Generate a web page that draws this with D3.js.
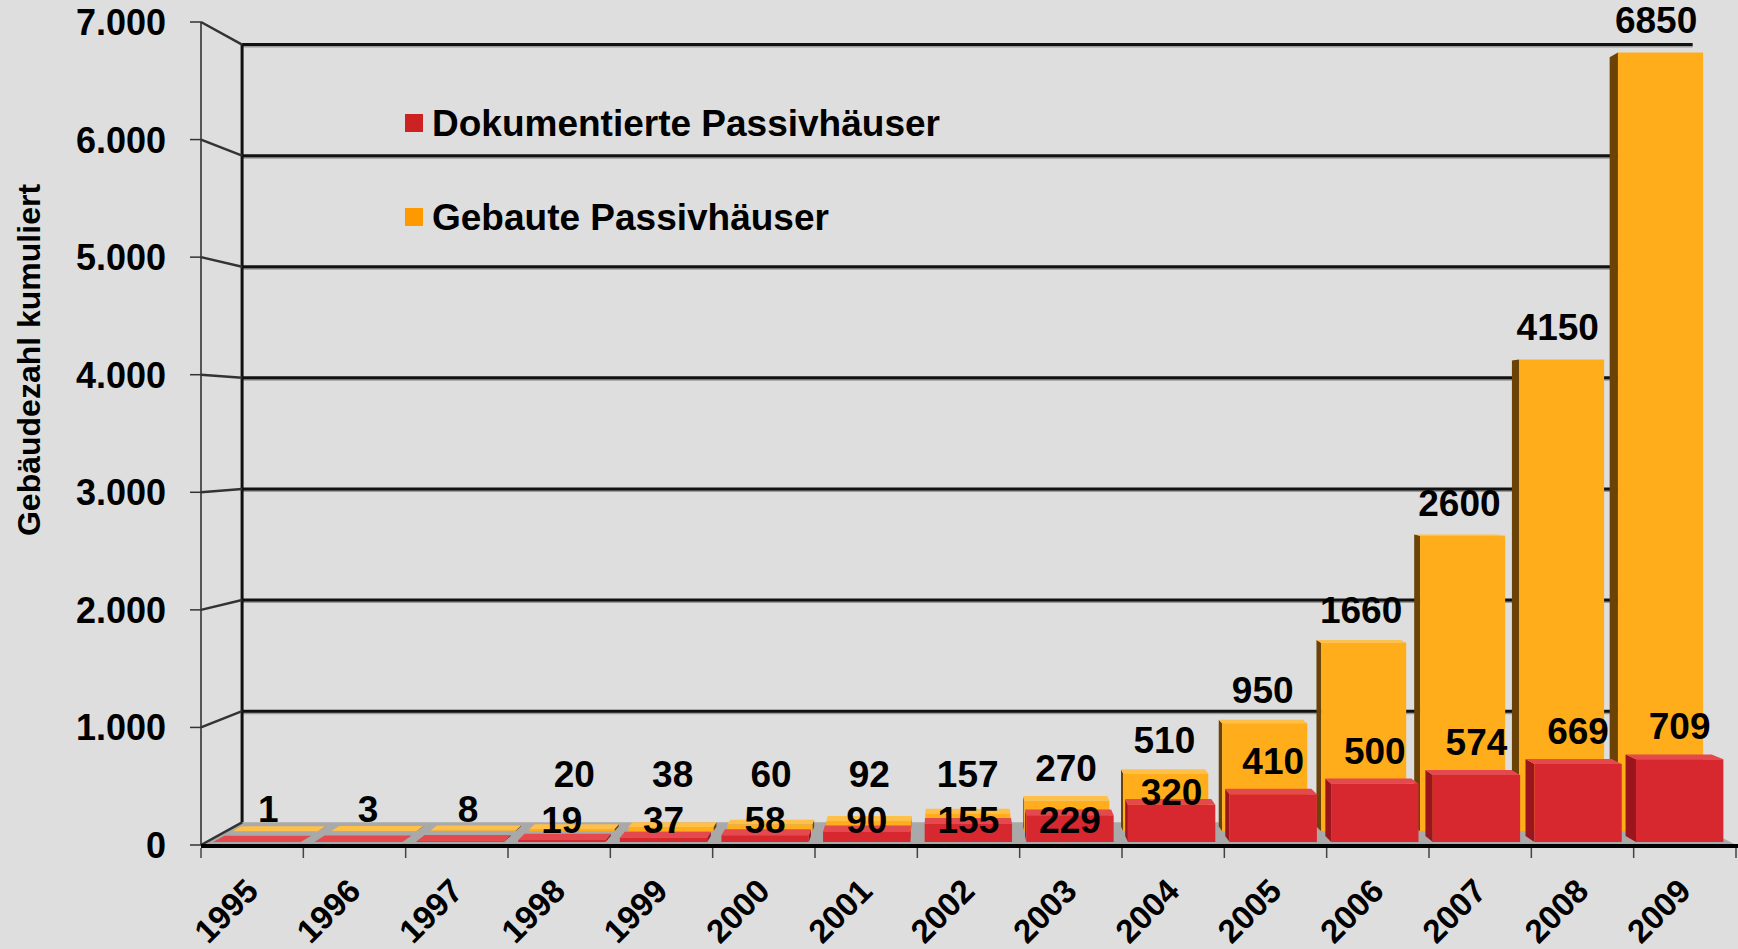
<!DOCTYPE html>
<html lang="de">
<head>
<meta charset="UTF-8">
<title>Passivhäuser</title>
<script src="https://d3js.org/d3.v7.min.js"></script>
<style>
  body { margin: 0; background: #dedede; }
  svg { display: block; font-family: "Liberation Sans", Arial, sans-serif; font-weight: bold; }
</style>
</head>
<body>
<div id="chart"></div>
<script>
// ====== DATA ======
var years = ["1995","1996","1997","1998","1999","2000","2001","2002","2003","2004","2005","2006","2007","2008","2009"];
var documented = [1, 3, 8, 19, 37, 58, 90, 155, 229, 320, 410, 500, 574, 669, 709];
var built = [1, 3, 8, 20, 38, 60, 92, 157, 270, 510, 950, 1660, 2600, 4150, 6850];
var yTicks = [0, 1000, 2000, 3000, 4000, 5000, 6000, 7000];
var tickLabels = ["0", "1.000", "2.000", "3.000", "4.000", "5.000", "6.000", "7.000"];
var seriesNames = ["Dokumentierte Passivhäuser", "Gebaute Passivhäuser"];
var axisTitle = "Gebäudezahl kumuliert";

// ====== SETUP ======
var width = 1738, height = 949;
var svg = d3.select("#chart").append("svg")
  .attr("width", width)
  .attr("height", height);

svg.append("rect").attr("width", width).attr("height", height).attr("fill", "#dedede");

// front plane scales
var x = d3.scaleBand().domain(years).range([201, 1736]).paddingInner(0.14).paddingOuter(0.07);
var y = d3.scaleLinear().domain([0, 7000]).range([845, 22]);

// simple perspective: everything shrinks towards a vanishing point with depth
var vp = [948, 432];
var wallS = 0.945;
var redDepth = [0.993, 0.978];
var orangeDepth = [0.967, 0.955];

function P(px, py, s) {
  return [vp[0] + (px - vp[0]) * s, vp[1] + (py - vp[1]) * s];
}
var line = d3.line();
function poly(pts) { return line(pts) + "Z"; }

var colors = {
  red: { front: "#d8282f", top: "#e4494d", side: "#9a161c", legend: "#cc2222" },
  orange: { front: "#ffad1a", top: "#ffc04a", side: "#6b4306", legend: "#ff9900" }
};

var x0 = x.range()[0], x1 = x.range()[1];

// ====== BACK WALL + FLOOR ======
var wall = svg.append("g");

// floor
wall.append("path")
  .attr("d", poly([P(x0, y(0), 1), P(x1, y(0), 1), P(x1, y(0), wallS), P(x0, y(0), wallS)]))
  .attr("fill", "#a9a9a9");

// gridlines on back wall
yTicks.forEach(function(t) {
  if (t === 0) return;
  var a = P(x0, y(t), wallS), b = P(x1, y(t), wallS);
  wall.append("line")
    .attr("x1", a[0]).attr("y1", a[1] + 2).attr("x2", b[0]).attr("y2", b[1] + 2)
    .attr("stroke", "#9a9a9a").attr("stroke-width", 2);
  wall.append("line")
    .attr("x1", a[0]).attr("y1", a[1]).attr("x2", b[0]).attr("y2", b[1])
    .attr("stroke", "#111").attr("stroke-width", 3);
});

// back wall left edge
var wb = P(x0, y(0), wallS), wt = P(x0, y(7000), wallS);
wall.append("line")
  .attr("x1", wb[0]).attr("y1", wb[1]).attr("x2", wt[0]).attr("y2", wt[1])
  .attr("stroke", "#111").attr("stroke-width", 3);

// front vertical axis
wall.append("line")
  .attr("x1", x0).attr("y1", y(0)).attr("x2", x0).attr("y2", y(7000))
  .attr("stroke", "#555").attr("stroke-width", 2);

// connectors from front ticks to the back wall + outer ticks
yTicks.forEach(function(t) {
  var a = P(x0, y(t), 1), b = P(x0, y(t), wallS);
  wall.append("line")
    .attr("x1", a[0]).attr("y1", a[1]).attr("x2", b[0]).attr("y2", b[1])
    .attr("stroke", "#333").attr("stroke-width", 2.5);
  wall.append("line")
    .attr("x1", x0 - 11).attr("y1", y(t)).attr("x2", x0).attr("y2", y(t))
    .attr("stroke", "#333").attr("stroke-width", 1.5);
});

// ====== BARS ======
function drawBox(g, bx0, bx1, v, depth, c) {
  var yb = y(0), yt = y(v), sf = depth[0], sb = depth[1];
  if (bx1 < vp[0]) {
    g.append("path").attr("d", poly([P(bx1, yt, sf), P(bx1, yt, sb), P(bx1, yb, sb), P(bx1, yb, sf)]))
      .attr("fill", c.side);
  } else if (bx0 > vp[0]) {
    g.append("path").attr("d", poly([P(bx0, yt, sf), P(bx0, yt, sb), P(bx0, yb, sb), P(bx0, yb, sf)]))
      .attr("fill", c.side);
  }
  if (yt > vp[1]) {
    g.append("path").attr("d", poly([P(bx0, yt, sf), P(bx1, yt, sf), P(bx1, yt, sb), P(bx0, yt, sb)]))
      .attr("fill", c.top);
  }
  g.append("path").attr("d", poly([P(bx0, yt, sf), P(bx1, yt, sf), P(bx1, yb, sf), P(bx0, yb, sf)]))
    .attr("fill", c.front);
}

var bars = svg.append("g");
years.forEach(function(yr, i) {
  drawBox(bars, x(yr), x(yr) + x.bandwidth(), built[i], orangeDepth, colors.orange);
});
years.forEach(function(yr, i) {
  drawBox(bars, x(yr), x(yr) + x.bandwidth(), documented[i], redDepth, colors.red);
});

// front floor edge
svg.append("line")
  .attr("x1", x0).attr("y1", y(0) + 1).attr("x2", width).attr("y2", y(0) + 1)
  .attr("stroke", "#000").attr("stroke-width", 4);

// x ticks
years.concat(["end"]).forEach(function(yr, i) {
  var tx = x0 + i * x.step();
  svg.append("line")
    .attr("x1", tx).attr("y1", y(0) + 3).attr("x2", tx).attr("y2", y(0) + 13)
    .attr("stroke", "#444").attr("stroke-width", 1.5);
});

// ====== LABELS ======
var labels = svg.append("g").attr("font-size", 37).attr("fill", "#000").attr("text-anchor", "middle");
var floorLabel = y(0) - 25;
years.forEach(function(yr, i) {
  var cx = x(yr) + x.bandwidth() / 2;
  var oTop = P(cx, y(built[i]), orangeDepth[0]);
  var rTop = P(cx, y(documented[i]), redDepth[0]);
  var ox = P(cx, 0, (orangeDepth[0] + orangeDepth[1]) / 2)[0];

  if (documented[i] === built[i]) {
    // same value in both series: one label only
    labels.append("text")
      .attr("x", (ox + rTop[0]) / 2)
      .attr("y", floorLabel - 11)
      .attr("dy", "0.35em")
      .text(built[i]);
    return;
  }
  var oy = Math.min(oTop[1] - 33, floorLabel - 46);
  var ry = Math.min(floorLabel, Math.max(rTop[1] - 33, oy + 52));

  labels.append("text")
    .attr("x", ox)
    .attr("y", oy)
    .attr("dy", "0.35em")
    .text(built[i]);
  labels.append("text")
    .attr("x", rTop[0])
    .attr("y", ry)
    .attr("dy", "0.35em")
    .text(documented[i]);
});

// year labels
svg.append("g").attr("font-size", 33).attr("text-anchor", "end")
  .selectAll("text")
  .data(years)
  .enter()
  .append("text")
  .attr("transform", function(d) {
    return "translate(" + (x(d) + x.bandwidth() / 2 + 8) + "," + 893 + ")rotate(-45)";
  })
  .text(function(d) { return d; });

// y tick labels
svg.append("g").attr("font-size", 36).attr("text-anchor", "end")
  .selectAll("text")
  .data(yTicks)
  .enter()
  .append("text")
  .attr("x", 166)
  .attr("y", function(d) { return y(d); })
  .attr("dy", "0.36em")
  .text(function(d, i) { return tickLabels[i]; });

// axis title
svg.append("text")
  .attr("transform", "translate(28,360)rotate(-90)")
  .attr("text-anchor", "middle")
  .attr("dy", "0.36em")
  .attr("font-size", 32)
  .text(axisTitle);

// ====== LEGEND ======
var legend = svg.append("g");
[colors.red.legend, colors.orange.legend].forEach(function(c, i) {
  var ly = 123 + i * 94;
  legend.append("rect")
    .attr("x", 405).attr("y", ly - 9).attr("width", 18).attr("height", 18)
    .attr("fill", c);
  legend.append("text")
    .attr("x", 432).attr("y", ly)
    .attr("dy", "0.36em")
    .attr("font-size", 37)
    .text(seriesNames[i]);
});
</script>
</body>
</html>
